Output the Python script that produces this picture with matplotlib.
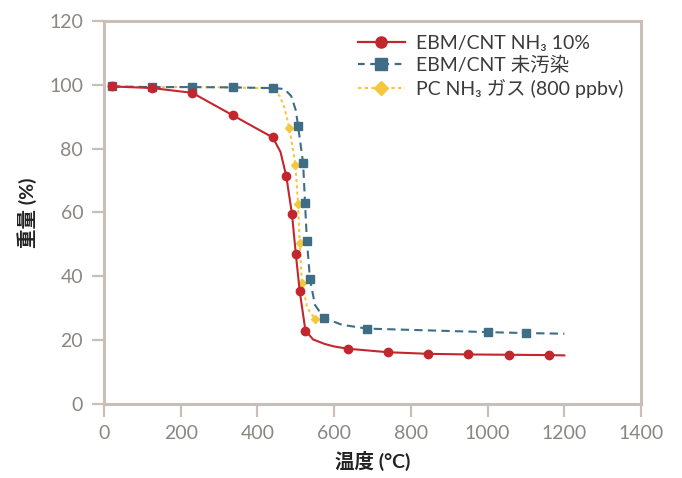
import numpy as np
import matplotlib.pyplot as plt
import matplotlib as mpl

plt.rcParams['font.family'] = ['Lato', 'Noto Sans CJK JP', 'DejaVu Sans']

# EBM/CNT NH3 10% (markers, and the drawn line)
red_x = [20, 125, 230, 335, 440, 475, 490, 500, 510, 525, 635, 740, 845, 950, 1055, 1160]
red_y = [99.5, 99, 97.5, 90.5, 83.5, 71.5, 59.5, 47, 35.5, 23, 17.3, 16.2, 15.7, 15.5, 15.4, 15.3]
red_line_x = [20, 125, 230, 335, 440, 460, 475, 490, 500, 510, 525, 545, 575, 600, 635, 740, 845, 950, 1055, 1160, 1200]
red_line_y = [99.5, 99, 97.5, 90.5, 83.5, 79, 71.5, 59.5, 47, 35.5, 23, 20.2, 18.8, 18, 17.3, 16.2, 15.7, 15.5, 15.4, 15.3, 15.2]

# EBM/CNT untreated
blue_x = [20, 125, 230, 335, 440, 506, 519, 524, 529, 537, 573, 686, 1000, 1100]
blue_y = [99.5, 99.3, 99.3, 99.2, 99, 87, 75.5, 63, 51, 39, 27, 23.6, 22.5, 22.2]
blue_line_x = [20, 125, 230, 335, 440, 470, 488, 500, 506, 519, 524, 529, 537, 550, 573, 620, 686, 1000, 1100, 1200]
blue_line_y = [99.5, 99.3, 99.3, 99.2, 99, 98.7, 96.5, 92, 87, 75.5, 63, 51, 39, 31, 27, 24.8, 23.6, 22.5, 22.2, 22]

# PC NH3 gas (800 ppbv)
yel_x = [20, 125, 230, 335, 440, 483, 499, 506, 510, 516, 551]
yel_y = [99.5, 99.3, 99.3, 99.2, 99, 86.5, 75, 62.5, 50.5, 38, 26.5]
yel_line_x = [20, 125, 230, 335, 440, 458, 470, 483, 499, 506, 510, 516, 530, 551, 575]
yel_line_y = [99.5, 99.3, 99.3, 99.2, 98.8, 96.5, 93, 86.5, 75, 62.5, 50.5, 38, 30, 26.5, 25.8]

red = '#c1272d'
blue = '#3e6d85'
yellow = '#f4c73e'
frame = '#c9bfb7'
tick_txt = '#8c8681'

fig = plt.figure(figsize=(6.82, 4.78), dpi=100)
ax = fig.add_axes([0.1525, 0.155, 0.7875, 0.801])

ax.plot(yel_line_x, yel_line_y, color=yellow, linestyle=(0, (1.5, 1.5)), linewidth=1.5, zorder=2)
ax.plot(yel_x, yel_y, linestyle='none', marker='D', markersize=4.5, color=yellow, zorder=2)
ax.plot(blue_line_x, blue_line_y, color=blue, linestyle=(0, (4, 2.5)), linewidth=1.5, zorder=3)
ax.plot(blue_x, blue_y, linestyle='none', marker='s', markersize=5.5, color=blue, zorder=3)
ax.plot(red_line_x, red_line_y, color=red, linewidth=1.5, zorder=4)
ax.plot(red_x, red_y, linestyle='none', marker='o', markersize=6, color=red, zorder=4)

h_red, = ax.plot([], [], color=red, linewidth=1.6, marker='o', markersize=8)
h_blue, = ax.plot([], [], color=blue, linestyle=(0, (3, 2.5)), linewidth=1.6, marker='s', markersize=8)
h_yel, = ax.plot([], [], color=yellow, linestyle=(0, (1.5, 1.5)), linewidth=1.6, marker='D', markersize=7)
ax.legend([h_red, h_blue, h_yel],
          ['EBM/CNT NH₃ 10%', 'EBM/CNT 未汚染', 'PC NH₃ ガス (800 ppbv)'],
          loc='upper right', bbox_to_anchor=(1.0, 1.01), frameon=False,
          prop={'size': 14}, handlelength=2.4,
          handletextpad=0.6, labelspacing=0.22, labelcolor='#3a3a3a')

ax.set_xlim(0, 1400)
ax.set_ylim(0, 120)
ax.set_xticks(np.arange(0, 1401, 200))
ax.set_yticks(np.arange(0, 121, 20))
for s in ax.spines.values():
    s.set_color(frame)
    s.set_linewidth(2.2)
ax.tick_params(direction='out', length=9, width=1.6, color=frame,
               labelcolor=tick_txt, labelsize=14, pad=6)

ax.set_xlabel('温度 (°C)', fontsize=14, fontweight='bold', color='#222222', labelpad=7)
ax.set_ylabel('重量 (%)', fontsize=14, fontweight='bold', color='#222222', labelpad=9)

fig.savefig('out.png', dpi=100)
